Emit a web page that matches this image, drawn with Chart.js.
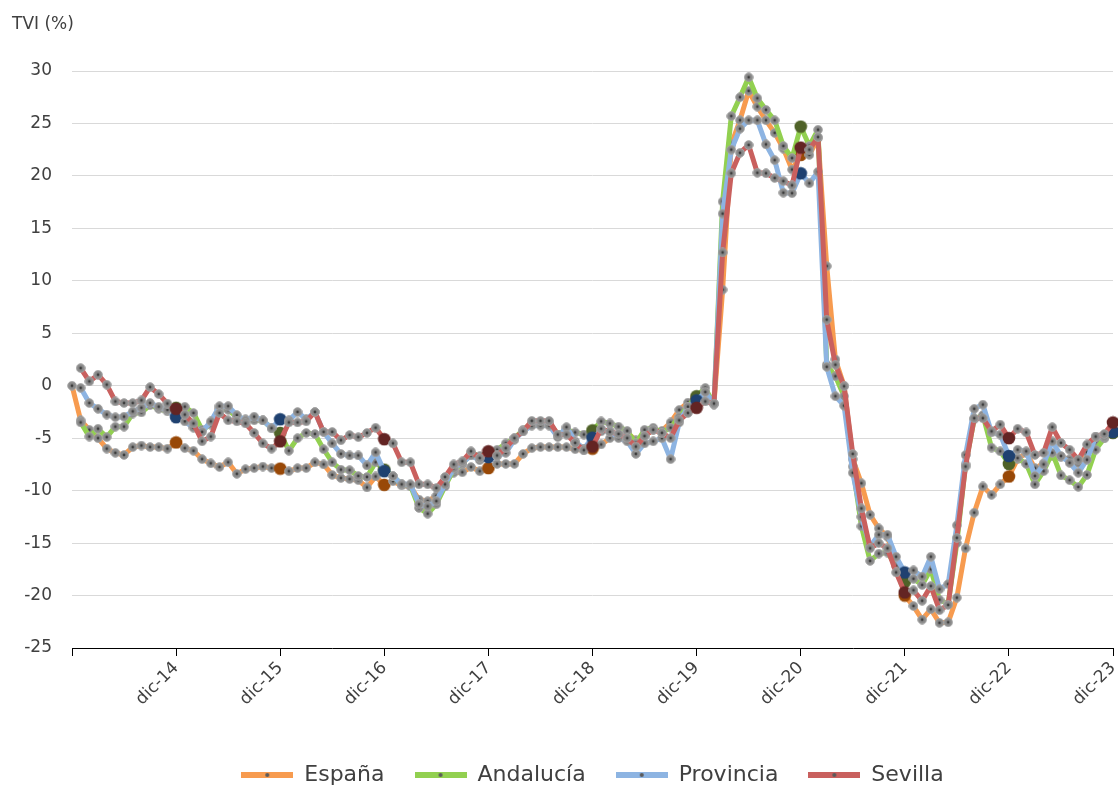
<!DOCTYPE html>
<html lang="es">
<head>
<meta charset="utf-8">
<title>TVI (%)</title>
<script src="https://cdn.jsdelivr.net/npm/chart.js@4.4.1/dist/chart.umd.min.js"></script>
<style>
  html, body { margin: 0; padding: 0; background: #fff; overflow: hidden; }
  #wrap { width: 1118px; height: 787px; }
</style>
</head>
<body>
<div id="wrap"><canvas id="tvi-chart" width="1118" height="787"></canvas></div>
<script>
// months: dic-13 .. dic-23 (121 points)
const mesesAbrev = ['ene', 'feb', 'mar', 'abr', 'may', 'jun', 'jul', 'ago', 'sep', 'oct', 'nov', 'dic'];
const primerAnio = 2013;
const ultimoAnio = 2023;

const espana = [
  0, -3.3, -4.2, -5.0, -6.0, -6.4, -6.6, -5.85, -5.7, -5.85,
  -5.85, -6.0, -5.4, -5.95, -6.2, -7.0, -7.4, -7.75, -7.3, -8.4,
  -7.95, -7.85, -7.7, -7.85, -7.9, -8.15, -7.85, -7.85, -7.3, -7.5,
  -8.5, -8.8, -8.9, -9.0, -9.7, -8.65, -9.45, -9.1, -9.5, -9.6,
  -10.85, -11.0, -10.5, -9.1, -8.3, -8.25, -7.75, -8.15, -7.85, -7.45,
  -7.45, -7.45, -6.5, -5.95, -5.85, -5.85, -5.85, -5.85, -6.05, -6.15,
  -6.0, -5.6, -5.0, -4.8, -4.5, -5.2, -4.8, -4.2, -4.3, -3.5,
  -2.3, -1.6, -1.2, -0.8, -1.7, 9.15, 23.0, 25.3, 28.1, 26.6,
  25.3, 24.1, 22.6, 20.6, 22.0, 22.0, 23.6, 11.4, 2.5, 0.0,
  -7.0, -9.3, -12.3, -13.6, -14.4, -17.0, -20.0, -21.0, -22.3, -21.3,
  -22.6, -22.55, -20.2, -15.5, -12.1, -9.6, -10.4, -9.4, -8.65, -7.0,
  -6.4, -7.85, -7.4, -6.7, -6.8, -7.0, -7.4, -6.35, -5.3, -5.0,
  -4.4
];

const andalucia = [
  null, -3.5, -4.85, -4.1, -4.9, -3.9, -3.9, -2.65, -2.55, -1.85,
  -2.2, -2.45, -2.1, -2.0, -2.6, -4.2, -3.7, -2.2, -2.3, -3.0,
  -3.2, -3.3, -3.3, -4.05, -4.5, -6.2, -5.0, -4.5, -4.6, -6.05,
  -7.3, -8.0, -8.05, -8.6, -8.7, -7.3, -8.0, -8.6, -9.4, -9.5,
  -11.65, -12.2, -11.3, -9.6, -8.0, -7.5, -6.4, -6.7, -6.6, -6.1,
  -5.5, -5.0, -4.2, -3.55, -3.55, -3.5, -4.65, -4.2, -4.45, -4.65,
  -4.25, -3.4, -3.6, -3.9, -4.3, -5.5, -4.2, -4.0, -4.5, -4.0,
  -3.0, -2.0, -1.0, -0.2, -1.8, 17.55, 25.7, 27.5, 29.4, 27.4,
  26.3, 25.3, 22.85, 21.7, 24.7, 22.85, 24.4, 2.0, 0.9, -1.0,
  -7.7, -13.4, -16.7, -16.0, -15.9, -17.2, -18.7, -18.4, -19.0, -17.5,
  -20.4, -20.8, -15.0, -7.5, -3.2, -2.8, -5.9, -6.25, -7.45, -6.9,
  -7.45, -9.4, -8.15, -6.4, -8.55, -9.0, -9.65, -8.5, -6.1, -5.0,
  -4.5
];

const provincia = [
  null, -0.2, -1.65, -2.2, -2.75, -3.0, -2.95, -2.45, -2.1, -1.65,
  -2.0, -2.3, -3.0, -3.4, -4.0, -4.4, -3.4, -1.95, -1.95, -2.8,
  -3.3, -2.95, -3.3, -4.05, -3.2, -3.3, -2.5, -3.2, -2.5, -4.4,
  -5.5, -6.5, -6.65, -6.65, -7.6, -6.35, -8.15, -8.6, -9.4, -9.4,
  -11.3, -11.5, -11.0, -9.4, -7.85, -7.35, -6.65, -7.1, -6.8, -6.7,
  -6.4, -5.15, -4.35, -3.8, -3.8, -3.8, -4.9, -3.95, -5.3, -6.0,
  -4.95, -4.35, -4.3, -5.0, -5.3, -6.5, -5.5, -5.3, -5.0, -7.0,
  -3.5, -2.0, -1.4, -0.6, -1.7, 16.4, 22.5, 24.5, 25.3, 25.3,
  23.0, 21.5, 18.4, 18.35, 20.25, 19.3, 20.4, 1.8, -1.0, -1.9,
  -8.3, -12.5, -15.3, -14.2, -14.2, -16.3, -17.8, -17.6, -18.2, -16.3,
  -19.4, -18.9, -13.3, -6.6, -2.2, -1.8, -4.45, -4.65, -6.7, -6.1,
  -6.25, -8.6, -7.5, -5.3, -6.7, -7.35, -8.3, -7.05, -4.85, -4.85,
  -4.4
];

const sevilla = [
  null, 1.68, 0.41, 1.05, 0.1, -1.5, -1.65, -1.65, -1.4, -0.13,
  -0.8, -1.7, -2.2, -2.75, -3.6, -5.3, -4.85, -2.6, -3.3, -3.4,
  -3.6, -4.5, -5.5, -6.0, -5.3, -3.5, -3.5, -3.4, -2.5, -4.4,
  -4.4, -5.2, -4.7, -4.9, -4.5, -4.0, -5.1, -5.5, -7.3, -7.3,
  -9.4, -9.4, -9.75, -8.7, -7.5, -7.2, -6.25, -6.9, -6.25, -6.65,
  -5.95, -5.0, -4.35, -3.35, -3.35, -3.35, -4.65, -4.65, -5.45, -6.15,
  -5.8, -4.1, -4.4, -4.6, -5.0, -5.8, -4.8, -4.2, -4.5, -5.0,
  -3.3, -2.6, -2.1, -1.5, -1.7, 12.7, 20.25, 22.2, 22.95, 20.3,
  20.25, 19.8, 19.5, 19.1, 22.7, 22.5, 23.7, 6.3, 2.0, -0.05,
  -6.5, -11.7, -15.5, -15.0, -15.5, -17.8, -19.7, -19.5, -20.5, -19.1,
  -21.4, -20.9, -14.5, -7.7, -3.1, -3.1, -4.35, -3.7, -5.0, -4.1,
  -4.45, -6.6, -6.4, -3.95, -5.45, -6.1, -7.05, -5.6, -4.85, -4.6,
  -3.5
];

const seriesNames = ['España', 'Andalucía', 'Provincia', 'Sevilla'];
const seriesData = [espana, andalucia, provincia, sevilla];
const lineColors = ['#F79B4F', '#92D050', '#8DB4E2', '#C9605E'];
const darkColors = ['#984807', '#4F6228', '#1F4170', '#632423'];
const textColor = '#404040';

function buildCategories() {
  const cats = ['dic-' + String(primerAnio).slice(2)];
  for (let y = primerAnio + 1; y <= ultimoAnio; y++) {
    mesesAbrev.forEach(m => cats.push(`${m}-${String(y).slice(2)}`));
  }
  return cats;
}

function makeMarker(size, fill, ring, dot) {
  const c = document.createElement('canvas');
  c.width = size;
  c.height = size;
  const g = c.getContext('2d');
  const r = size / 2;
  g.beginPath();
  g.arc(r, r, r - 0.7, 0, Math.PI * 2);
  g.fillStyle = fill;
  g.fill();
  if (ring) {
    g.lineWidth = 1;
    g.strokeStyle = ring;
    g.stroke();
  }
  if (dot) {
    g.beginPath();
    g.arc(r, r, 1.4, 0, Math.PI * 2);
    g.fillStyle = dot;
    g.fill();
  }
  return c;
}

function makeLegendIcon(color) {
  const c = document.createElement('canvas');
  c.width = 52;
  c.height = 10;
  const g = c.getContext('2d');
  g.fillStyle = color;
  g.fillRect(0, 2, 52, 6);
  g.beginPath();
  g.arc(26, 5, 2, 0, Math.PI * 2);
  g.fillStyle = '#5a5a5a';
  g.fill();
  return c;
}

const smallMarker = makeMarker(10, '#8a8a8a', '#a5a5a5', '#3c3c3c');
const bigMarkers = darkColors.map(col => makeMarker(14, col));
const legendIcons = lineColors.map(makeLegendIcon);

const isDic = idx => idx > 0 && idx % 12 === 0;

const axisTitle = {
  id: 'axisTitle',
  afterDraw(chart) {
    const { ctx } = chart;
    ctx.save();
    ctx.font = '17px "DejaVu Sans"';
    ctx.fillStyle = textColor;
    ctx.textBaseline = 'middle';
    ctx.fillText('TVI (%)', 12, 25);
    ctx.restore();
  }
};

Chart.defaults.font.family = '"DejaVu Sans", sans-serif';
Chart.defaults.color = textColor;

const datasets = seriesData.map((data, k) => ({
  label: seriesNames[k],
  data,
  borderColor: lineColors[k],
  backgroundColor: lineColors[k],
  borderWidth: 5,
  borderJoinStyle: 'round',
  tension: 0,
  order: 3 - k, // Sevilla on top
  clip: 10,
  pointRadius: ctx => (isDic(ctx.dataIndex) ? 7 : 5),
  pointStyle: ctx => (isDic(ctx.dataIndex) ? bigMarkers[k] : smallMarker)
}));

new Chart(document.getElementById('tvi-chart'), {
  type: 'line',
  data: { labels: buildCategories(), datasets },
  options: {
    responsive: false,
    animation: false,
    events: [],
    layout: { autoPadding: false, padding: { top: 71, right: 5, bottom: -9, left: 0 } },
    plugins: {
      tooltip: { enabled: false },
      legend: {
        position: 'bottom',
        fullSize: false,
        labels: {
          usePointStyle: true,
          pointStyleWidth: 52,
          boxHeight: 10,
          padding: 30,
          color: textColor,
          font: { size: 22 },
          sort: (a, b) => a.datasetIndex - b.datasetIndex,
          generateLabels: chart => chart.data.datasets.map((ds, i) => ({
            text: ds.label,
            datasetIndex: i,
            pointStyle: legendIcons[i],
            fillStyle: ds.borderColor,
            strokeStyle: ds.borderColor,
            lineWidth: 0,
            hidden: false,
            fontColor: textColor
          }))
        }
      }
    },
    scales: {
      x: {
        type: 'category',
        offset: false,
        border: { display: true, color: '#000', width: 1 },
        grid: {
          drawOnChartArea: false,
          drawTicks: true,
          tickLength: 8,
          color: ctx => (ctx.index % 12 === 0 ? '#000' : 'rgba(0,0,0,0)')
        },
        ticks: {
          autoSkip: false,
          minRotation: 45,
          maxRotation: 45,
          padding: 2,
          font: { size: 17 },
          color: textColor,
          callback: function (val, idx) {
            return isDic(idx) ? this.getLabelForValue(val) : '';
          }
        },
        afterFit: scale => {
          scale.height = 86;
          // rotated last label must not shrink the plot
          scale.paddingRight = 0;
          scale.paddingLeft = 0;
        }
      },
      y: {
        min: -25,
        max: 30,
        border: { display: false },
        grid: { color: '#d9d9d9', lineWidth: 1, drawTicks: false },
        ticks: { stepSize: 5, padding: 20, font: { size: 17 }, color: textColor },
        afterFit: scale => { scale.width = 72; }
      }
    }
  },
  plugins: [axisTitle]
});
</script>
</body>
</html>
